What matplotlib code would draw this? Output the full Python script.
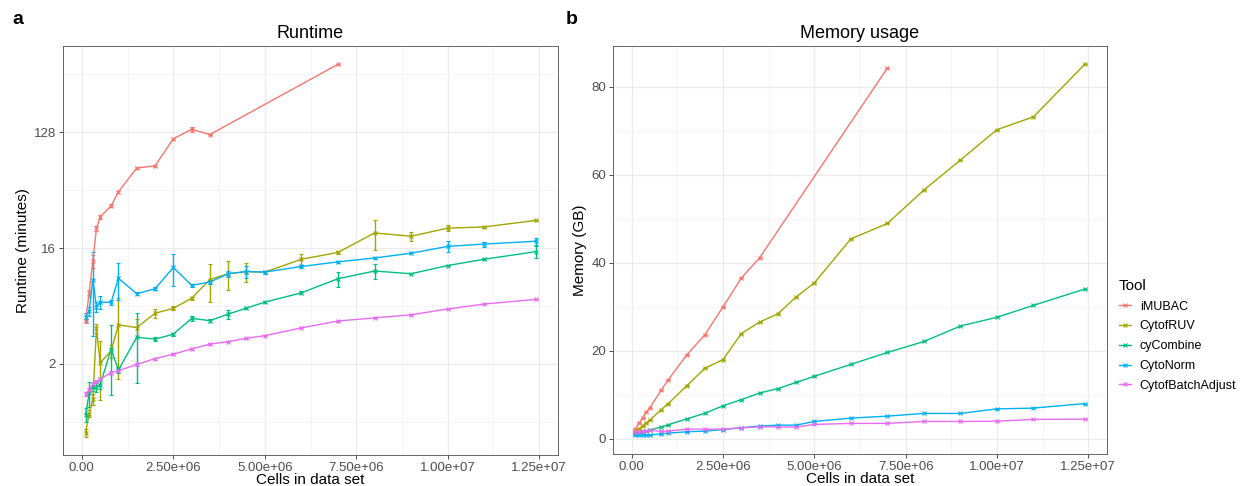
import numpy as np
import matplotlib
matplotlib.use("Agg")
import matplotlib.pyplot as plt
from matplotlib.lines import Line2D
from matplotlib.ticker import NullFormatter

plt.rcParams['font.family'] = ['Liberation Sans', 'DejaVu Sans']

# cells in data set
cells = [1e5, 2e5, 3e5, 4e5, 5e5, 8e5, 1e6, 1.5e6, 2e6, 2.5e6, 3e6, 3.5e6, 4e6, 4.5e6,
         5e6, 6e6, 7e6, 8e6, 9e6, 1e7, 1.1e7, 1.24e7]
cells_imubac = [1e5, 2e5, 3e5, 4e5, 5e5, 8e5, 1e6, 1.5e6, 2e6, 2.5e6, 3e6, 3.5e6, 7e6]

tools = ['iMUBAC', 'CytofRUV', 'cyCombine', 'CytoNorm', 'CytofBatchAdjust']
colors = ['#F8766D', '#A3A500', '#00BF7D', '#00B0F6', '#E76BF3']

# runtime (minutes), mean and sd
rt_imubac = [4.35, 7.1, 12.7, 22.8, 28, 34.2, 44, 67.4, 70, 114, 135, 123, 434]
rt_imubac_sd = [0.15, 0.4, 1.5, 1.0, 1.0, 1.0, 1.0, 1.5, 1.5, 2.0, 6.0, 2.0, 3.0]
rt_ruv = [0.58, 0.82, 1.06, 3.78, 2.04, 2.52, 4.03, 3.84, 4.96, 5.43, 6.5, 9.1, 10.1, 10.5,
          10.4, 13.1, 14.8, 21.0, 19.8, 22.9, 23.4, 26.3]
rt_ruv_sd = [0.04, 0.05, 0.1, 0.3, 1.0, 0.3, 2.5, 0.6, 0.4, 0.2, 0.2, 3.0, 2.6, 1.8,
             0.3, 1.2, 0.3, 5.6, 1.7, 1.2, 0.5, 0.3]
rt_cycombine = [0.80, 1.18, 1.33, 1.33, 1.37, 2.6, 1.79, 3.23, 3.12, 3.41, 4.53, 4.35, 4.89,
                5.45, 6.06, 7.17, 9.23, 10.6, 10.1, 11.7, 13.1, 15.0]
rt_cycombine_sd = [0.1, 0.26, 0.1, 0.12, 0.1, 1.45, 0.1, 1.8, 0.1, 0.1, 0.2, 0.1, 0.4,
                   0.1, 0.1, 0.2, 1.25, 1.45, 0.1, 0.2, 0.2, 1.5]
rt_cytonorm = [4.66, 5.17, 9.1, 5.58, 6.05, 6.05, 9.3, 7.06, 7.7, 11.3, 8.2, 8.7, 10.1, 10.5,
               10.4, 11.5, 12.5, 13.4, 14.6, 16.5, 17.2, 18.1]
rt_cytonorm_sd = [0.3, 0.4, 5.8, 0.5, 0.7, 0.3, 3.0, 0.2, 0.2, 3.2, 0.2, 0.3, 0.5, 1.2,
                  0.3, 0.3, 0.3, 0.3, 0.3, 1.7, 0.8, 1.25]
rt_batchadj = [1.17, 1.25, 1.39, 1.45, 1.52, 1.71, 1.77, 1.98, 2.2, 2.38, 2.62, 2.85, 2.98,
               3.17, 3.32, 3.82, 4.32, 4.57, 4.83, 5.36, 5.86, 6.37]
rt_batchadj_sd = [0.04, 0.04, 0.04, 0.04, 0.04, 0.04, 0.04, 0.04, 0.04, 0.04, 0.04, 0.04,
                  0.04, 0.04, 0.04, 0.04, 0.04, 0.04, 0.04, 0.04, 0.04, 0.04]

# memory usage (GB)
mem_imubac = [2.3, 3.6, 4.8, 6.1, 7.1, 11.0, 13.4, 19.0, 23.6, 30.0, 36.5, 41.1, 84.2]
mem_ruv = [1.6, 2.3, 3.0, 3.6, 4.3, 6.6, 8.0, 12.0, 16.0, 18.0, 23.9, 26.5, 28.4, 32.2,
           35.4, 45.4, 48.9, 56.5, 63.3, 70.2, 73.1, 85.0]
mem_cycombine = [1.3, 1.4, 1.6, 1.8, 2.0, 2.65, 3.2, 4.5, 5.8, 7.5, 8.9, 10.4, 11.4, 12.8,
                 14.2, 16.9, 19.6, 22.1, 25.6, 27.6, 30.3, 34.0]
mem_cytonorm = [0.76, 0.76, 0.78, 0.8, 0.83, 1.14, 1.29, 1.6, 1.74, 2.1, 2.5, 2.9, 3.1, 3.1,
                3.94, 4.7, 5.15, 5.76, 5.76, 6.8, 6.97, 8.0]
mem_batchadj = [1.5, 1.65, 1.74, 1.8, 1.9, 1.74, 1.74, 2.2, 2.2, 2.2, 2.5, 2.7, 2.7, 2.65,
                3.26, 3.5, 3.5, 3.94, 3.94, 4.0, 4.4, 4.47]

x_ticks = [0, 2.5e6, 5e6, 7.5e6, 1e7, 1.25e7]
x_ticklabels = ['0.00', '2.50e+06', '5.00e+06', '7.50e+06', '1.00e+07', '1.25e+07']

rt_series = [(cells_imubac, rt_imubac, rt_imubac_sd),
             (cells, rt_ruv, rt_ruv_sd),
             (cells, rt_cycombine, rt_cycombine_sd),
             (cells, rt_cytonorm, rt_cytonorm_sd),
             (cells, rt_batchadj, rt_batchadj_sd)]
mem_series = [(cells_imubac, mem_imubac), (cells, mem_ruv), (cells, mem_cycombine),
              (cells, mem_cytonorm), (cells, mem_batchadj)]

fig = plt.figure(figsize=(12.4, 4.86), dpi=100)
ax1 = fig.add_axes([63 / 1240, 31 / 486, 495 / 1240, 409 / 486])
ax2 = fig.add_axes([613 / 1240, 32 / 486, 494 / 1240, 408 / 486])


def style_axes(ax):
    ax.set_axisbelow(True)
    ax.grid(which='major', color='#EBEBEB', lw=0.9)
    ax.grid(which='minor', color='#F2F2F2', lw=0.5)
    for s in ax.spines.values():
        s.set_color('#4D4D4D')
        s.set_linewidth(0.6)
    ax.tick_params(which='major', length=3, width=0.6, color='#333333',
                   labelcolor='#4D4D4D', labelsize=9.5, pad=2)
    ax.tick_params(which='minor', length=0)
    ax.set_xticks(x_ticks)
    ax.set_xticklabels(x_ticklabels)
    ax.set_xticks([-1.25e6, 1.25e6, 3.75e6, 6.25e6, 8.75e6, 1.125e7], minor=True)
    ax.xaxis.set_minor_formatter(NullFormatter())
    ax.set_xlim(-0.515e6, 1.3015e7)
    ax.set_xlabel('Cells in data set', fontsize=11, labelpad=-1)


# runtime panel
for (x, y, sd), c, name in zip(rt_series, colors, tools):
    ax1.errorbar(x, y, yerr=sd, color=c, lw=1.0, marker='x', ms=3.5, mew=0.8,
                 elinewidth=1.0, capsize=1.5, capthick=0.8, label=name)
ax1.set_yscale('log', base=2)
ax1.set_ylim(2 ** -1.36, 2 ** 9.236)
ax1.set_yticks([2, 16, 128])
ax1.set_yticklabels(['2', '16', '128'])
ax1.set_yticks([2 ** -0.5, 2 ** 2.5, 2 ** 5.5, 2 ** 8.5], minor=True)
ax1.yaxis.set_minor_formatter(NullFormatter())
style_axes(ax1)
ax1.set_ylabel('Runtime (minutes)', fontsize=11, labelpad=3)
ax1.set_title('Runtime', fontsize=13, pad=6)

# memory panel
for (x, y), c, name in zip(mem_series, colors, tools):
    ax2.errorbar(x, y, yerr=0, color=c, lw=1.0, marker='x', ms=3.5, mew=0.8,
                 elinewidth=1.0, capsize=1.5, capthick=0.8, label=name)
ax2.set_ylim(-3.45, 89.2)
ax2.set_yticks([0, 20, 40, 60, 80])
ax2.set_yticks([10, 30, 50, 70], minor=True)
ax2.yaxis.set_minor_formatter(NullFormatter())
style_axes(ax2)
ax2.set_ylabel('Memory (GB)', fontsize=11, labelpad=3)
ax2.set_title('Memory usage', fontsize=13, pad=6)

fig.text(12 / 1240, 1 - 19 / 486, 'a', fontsize=14, fontweight='bold', va='center')
fig.text(566 / 1240, 1 - 19 / 486, 'b', fontsize=14, fontweight='bold', va='center')

handles = [Line2D([], [], color=c, lw=1.0, marker='x', ms=3.5, mew=0.8) for c in colors]
leg = fig.legend(handles, tools, title='Tool', loc='center left',
                 bbox_to_anchor=(1111 / 1240, 0.31), frameon=False, fontsize=9,
                 title_fontsize=11, handlelength=1.0, labelspacing=0.62,
                 handletextpad=0.7, borderaxespad=0.2)
leg._legend_box.align = 'left'

fig.savefig('out.png', dpi=100)
